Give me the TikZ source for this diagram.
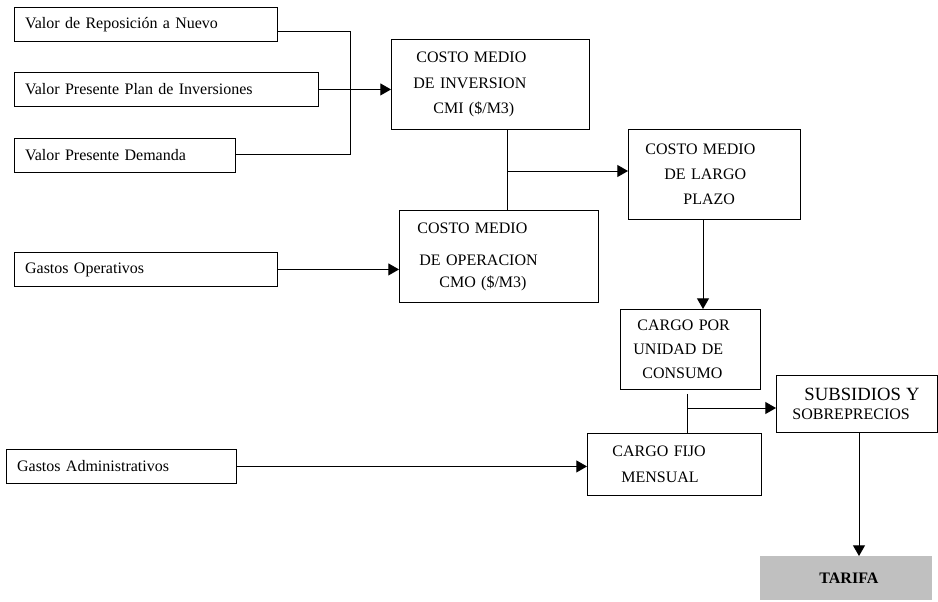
\documentclass[tikz,border=0pt]{standalone}
\usepackage{fontspec}
\setmainfont{Liberation Serif}
\usetikzlibrary{calc,arrows.meta,positioning}
\definecolor{tarifagris}{RGB}{192,192,192}

\begin{document}
\begin{tikzpicture}[x=0.75pt,y=-0.75pt,line width=0.65pt,
  entrada/.style={draw,anchor=north west,inner xsep=8pt,inner ysep=0pt,minimum height=25.5pt,align=left,font=\fontsize{12}{14}\selectfont},
  bloque/.style={draw,anchor=north west,inner sep=0pt,align=left,font=\fontsize{12}{19}\selectfont},
  flecha/.style={-{Triangle[length=8pt,width=9pt]}}]
\useasboundingbox (0,0) rectangle (938,601);
% entradas
\node[entrada,text width=181.25pt] (rep) at (14,7) {Valor de Reposición a Nuevo};
\node[entrada,text width=212pt] (plan) at (14,72) {Valor Presente Plan de Inversiones};
\node[entrada,text width=149.75pt] (dem) at (14,138) {Valor Presente Demanda};
\node[entrada,text width=181.25pt] (gop) at (14,252) {Gastos Operativos};
\node[entrada,text width=156.5pt] (gadm) at (6,449) {Gastos Administrativos};
% bloques
\node[bloque,text width=148.5pt,minimum height=67.5pt] (cmi) at (391,39) {\hspace*{18.75pt}COSTO MEDIO\\\hspace*{16.5pt}DE INVERSION\\\hspace*{31.5pt}CMI (\$/M3)};
\node[bloque,text width=129pt,minimum height=67.5pt] (cmlp) at (628,129) {\hspace*{12.75pt}COSTO MEDIO\\\hspace*{27pt}DE LARGO\\\hspace*{41.25pt}PLAZO};
\node[bloque,text width=149.25pt,minimum height=69pt] (cmo) at (399,210) {\hspace*{13.5pt}COSTO MEDIO\\[5pt]\hspace*{15pt}DE OPERACION\\[-2.5pt]\hspace*{30pt}CMO (\$/M3)};
\node[bloque,text width=105pt,minimum height=60pt,font=\fontsize{12}{18}\selectfont] (cup) at (620,309) {\hspace*{12.75pt}CARGO POR\\\hspace*{9.75pt}UNIDAD DE\\\hspace*{16.5pt}CONSUMO};
\node[bloque,text width=130.5pt,minimum height=46.5pt] (cfm) at (587,433) {\hspace*{18.75pt}CARGO FIJO\\\hspace*{25.5pt}MENSUAL};
\node[bloque,text width=120.75pt,minimum height=42.75pt,font=\fontsize{12}{14.25}\selectfont] (sub) at (776,375) {\hspace*{21pt}{\fontsize{14}{14.25}\selectfont SUBSIDIOS Y}\\\hspace*{12pt}SOBREPRECIOS};
\node[bloque,draw=none,fill=tarifagris,text width=129pt,minimum height=33pt,font=\fontsize{12}{14}\selectfont\bfseries] (tar) at (760,556) {\hspace*{44.25pt}TARIFA};
% conexiones
\coordinate (busA) at (350,31);
\coordinate (busB) at (350,154);
\draw (rep.east |- busA) -- (busA) -- (busB) -- (dem.east |- busB);
\draw[flecha] (plan.east) -- (cmi.west |- plan.east);
\coordinate (cruceA) at (507,171);
\draw (cmi.south -| cruceA) -- (cmo.north -| cruceA);
\draw[flecha] (cruceA) -- (cmlp.west |- cruceA);
\draw[flecha] (gop.east) -- (cmo.west |- gop.east);
\coordinate (bajadaA) at (703,0);
\draw[flecha] (cmlp.south -| bajadaA) -- (cup.north -| bajadaA);
\coordinate (cruceB) at (687,408);
\draw ($(cup.south -| cruceB)+(0,4)$) -- (cfm.north -| cruceB);
\draw[flecha] (cruceB) -- (sub.west |- cruceB);
\draw[flecha] (gadm.east) -- (cfm.west |- gadm.east);
\coordinate (bajadaB) at (859,0);
\draw[flecha] (sub.south -| bajadaB) -- (tar.north -| bajadaB);
\end{tikzpicture}
\end{document}
